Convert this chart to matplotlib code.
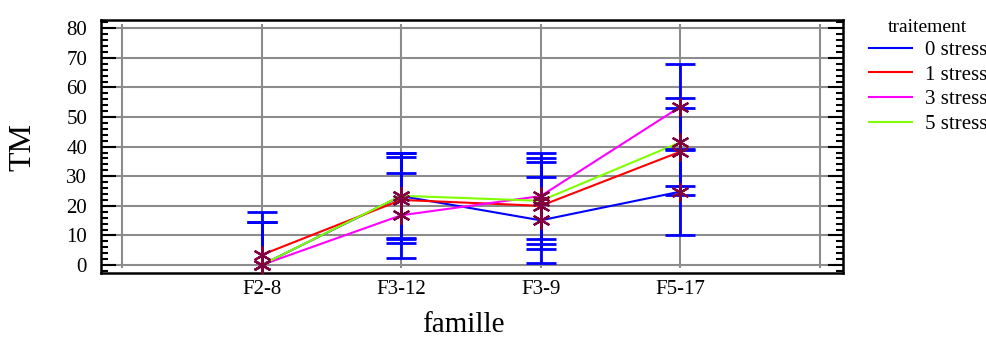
import numpy as np
import matplotlib
matplotlib.use("Agg")
import matplotlib.pyplot as plt
from matplotlib.ticker import MultipleLocator

# data
familles = ["F2-8", "F3-12", "F3-9", "F5-17"]
traitements = ["0 stress", "1 stress", "3 stress", "5 stress"]
tm_0 = [0.0, 23.3, 15.1, 24.8]
tm_1 = [3.4, 22.0, 20.0, 38.3]
tm_3 = [0.0, 16.8, 23.3, 53.5]
tm_5 = [0.0, 23.4, 21.7, 41.5]
err_0 = [14.7, 14.5, 14.5, 14.5]
err_1 = [14.5, 14.6, 14.7, 14.6]
err_3 = [14.7, 14.4, 14.6, 14.6]
err_5 = [14.7, 14.4, 14.6, 14.8]

couleurs = ["#0000ff", "#ff0000", "#ff00ff", "#80ff00"]

plt.rcParams['font.family'] = ['Liberation Serif', 'DejaVu Serif']

fig = plt.figure(figsize=(9.86, 3.38), dpi=100)
ax = fig.add_axes([0.1024, 0.1923, 0.7526, 0.7485])

x = np.arange(1, len(familles) + 1)
series = [tm_0, tm_1, tm_3, tm_5]
errs = [err_0, err_1, err_3, err_5]

# grid drawn by hand so the vertical lines stop short of the frame
ax.hlines(np.arange(0, 90, 10), -0.2, 5.2, colors="#8c8c8c", lw=1.5, zorder=0.5)
ax.vlines(np.arange(0, 6), -1, 81.5, colors="#8c8c8c", lw=1.5, zorder=0.5)

for vals, col, lab in zip(series, couleurs, traitements):
    ax.plot(x, vals, color=col, lw=1.5, label=lab, zorder=2)

for vals, e in zip(series, errs):
    ax.errorbar(x, vals, yerr=e, fmt="none", ecolor="#0000ff", elinewidth=2,
                capsize=11, capthick=2, zorder=3)

for vals in series:
    ax.plot(x, vals, linestyle="none", marker=(6, 2, 0), markersize=13,
            markeredgewidth=1.6, color="#800040", zorder=4)

ax.set_xlim(-0.15, 5.165)
ax.set_ylim(-2.7, 82.8)
ax.set_xticks(x)
ax.set_xticklabels(familles)
ax.yaxis.set_major_locator(MultipleLocator(10))
ax.yaxis.set_minor_locator(MultipleLocator(2))
ax.set_yticks(np.arange(0, 90, 10))

ax.tick_params(axis="x", length=0, pad=5, labelsize=15)
ax.tick_params(axis="y", which="major", direction="in", length=10.8, width=1.5,
               left=True, right=True, pad=10, labelsize=15)
ax.tick_params(axis="y", which="minor", direction="in", length=5, width=1.5,
               left=True, right=True)

for sp in ax.spines.values():
    sp.set_linewidth(1.8)

ax.set_ylabel("TM", fontsize=23)
ax.yaxis.set_label_coords(-0.085, 0.5)
ax.set_xlabel("famille", fontsize=21)
ax.xaxis.set_label_coords(0.488, -0.155)

leg = fig.legend(loc="upper left", bbox_to_anchor=(0.881, 0.945), frameon=False,
                 title="traitement", fontsize=15, title_fontsize=14,
                 handlelength=2.07, handletextpad=0.62, labelspacing=0.24,
                 borderaxespad=0, borderpad=0)

fig.savefig("out.png", dpi=100)
